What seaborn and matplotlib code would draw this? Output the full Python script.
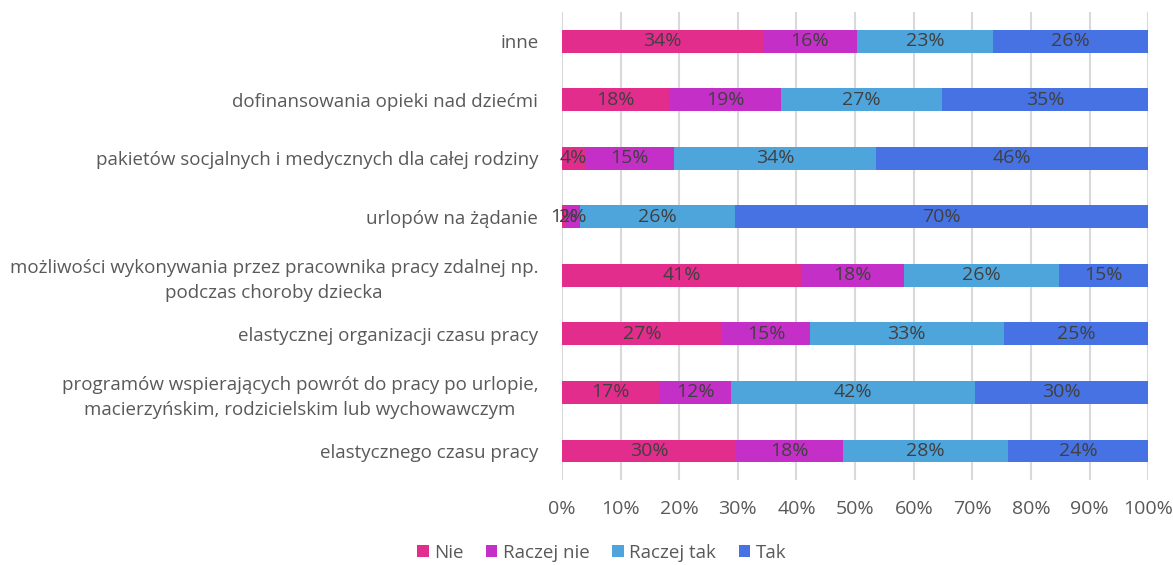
import matplotlib
matplotlib.use("Agg")
import matplotlib.pyplot as plt
import numpy as np
import pandas as pd
import seaborn as sns
from matplotlib.patches import Patch

CATEGORIES = [
    "inne",
    "dofinansowania opieki nad dziećmi",
    "pakietów socjalnych i medycznych dla całej rodziny",
    "urlopów na żądanie",
    "możliwości wykonywania przez pracownika pracy zdalnej np.\npodczas choroby dziecka",
    "elastycznej organizacji czasu pracy",
    "programów wspierających powrót do pracy po urlopie,\nmacierzyńskim, rodzicielskim lub wychowawczym",
    "elastycznego czasu pracy",
]
SERIES = ["Nie", "Raczej nie", "Raczej tak", "Tak"]
NIE = [34.3, 18.3, 3.9, 0.7, 40.8, 27.3, 16.6, 29.7]
RACZEJ_NIE = [16.0, 19.1, 15.2, 2.4, 17.6, 15.0, 12.2, 18.3]
RACZEJ_TAK = [23.2, 27.4, 34.5, 26.4, 26.4, 33.0, 41.7, 28.1]
TAK = [26.5, 35.2, 46.4, 70.3, 15.2, 24.7, 29.5, 23.9]
LABEL_NIE = ["34%", "18%", "4%", "1%", "41%", "27%", "17%", "30%"]
LABEL_RN = ["16%", "19%", "15%", "2%", "18%", "15%", "12%", "18%"]
LABEL_RT = ["23%", "27%", "34%", "26%", "26%", "33%", "42%", "28%"]
LABEL_TAK = ["26%", "35%", "46%", "70%", "15%", "25%", "30%", "24%"]
COLORS = ["#E32D8C", "#C42FC8", "#4EA5DB", "#4672E4"]

sns.set_theme(style="white")
plt.rcParams["font.family"] = ["Open Sans", "DejaVu Sans"]

df = pd.DataFrame({"cat": CATEGORIES, "Nie": NIE, "Raczej nie": RACZEJ_NIE,
                   "Raczej tak": RACZEJ_TAK, "Tak": TAK})
values = df[SERIES].to_numpy()
norm = values / values.sum(axis=1, keepdims=True) * 100
cum = np.cumsum(norm, axis=1)
labels = [LABEL_NIE, LABEL_RN, LABEL_RT, LABEL_TAK]

fig = plt.figure(figsize=(11.73, 5.65), dpi=100)
ax = fig.add_axes([0.479, 0.15, 0.5, 0.829])

# draw longest cumulative first, shorter on top
for j in range(len(SERIES) - 1, -1, -1):
    sns.barplot(x=cum[:, j], y=CATEGORIES, orient="h", color=COLORS[j],
                width=0.39, ax=ax, linewidth=0, saturation=1, zorder=2)

for j in range(len(SERIES)):
    start = cum[:, j] - norm[:, j]
    for i in range(len(CATEGORIES)):
        ax.text(start[i] + norm[i, j] / 2, i, labels[j][i], ha="center", va="center",
                fontsize=14, color="#404040", zorder=3)

ax.set_xlim(0, 100)
ax.set_ylim(len(CATEGORIES) - 0.5, -0.5)
ax.set_xticks(np.arange(0, 101, 10))
ax.set_xticklabels([f"{t}%" for t in range(0, 101, 10)])
ax.xaxis.grid(True, color="#D9D9D9", linewidth=1.5, zorder=0)
ax.set_axisbelow(True)
for s in ax.spines.values():
    s.set_visible(False)
ax.tick_params(axis="both", length=0, colors="#595959")
ax.tick_params(axis="x", pad=14, labelsize=14)
ax.tick_params(axis="y", pad=17, labelsize=13.5)
for t in ax.get_yticklabels():
    t.set_multialignment("center")
    t.set_linespacing(1.45)
ax.set_xlabel("")
ax.set_ylabel("")

handles = [Patch(facecolor=c, edgecolor="none", label=s) for s, c in zip(SERIES, COLORS)]
fig.legend(handles=handles, loc="lower center", bbox_to_anchor=(0.513, -0.024), ncol=4,
           frameon=False, fontsize=13.5, handlelength=0.6, handleheight=0.6,
           handletextpad=0.3, columnspacing=1.2, labelcolor="#595959")

fig.savefig("out.png", dpi=100)
